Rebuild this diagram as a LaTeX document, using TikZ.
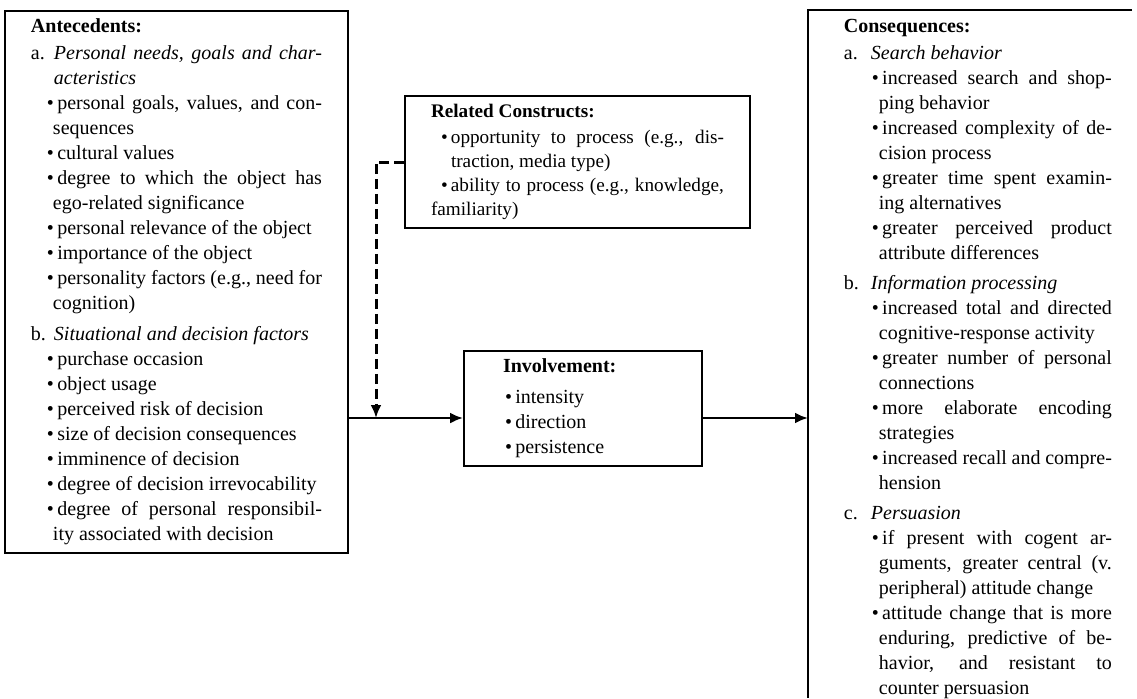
\documentclass[tikz,border=0pt]{standalone}
\usepackage{fontspec}
\setmainfont{Liberation Serif}
\usetikzlibrary{arrows.meta}
\tikzset{>={Latex[length=6.5pt,width=5.5pt]}}
\setlength{\parindent}{0pt}
\setlength{\parskip}{0pt}

\newlength{\bulx}
\newlength{\hangx}
\newlength{\letx}
\newcommand{\boxhead}[1]{\textbf{#1}\par}
\newcommand{\lettered}[3][3pt]{\vspace{#1}\hangindent=\letx\hangafter=1\makebox[\letx][l]{#2}\textit{#3}\par}
\newcommand{\bullitem}[2][\hangx]{\hangindent=#1\hangafter=1\hspace*{\bulx}\textbullet\,#2\par}

\tikzset{
	infobox/.style={draw, line width=0.9pt, align=justify, inner ysep=4pt, font=\fontsize{10}{12.5}\selectfont},
	link/.style={line width=1.3pt, ->},
	dasharrow/.style={line width=1.5pt, dash pattern=on 5pt off 2.5pt, ->}
}

\begin{document}
\begin{tikzpicture}[x=0.5pt,y=-0.5pt]
	\useasboundingbox (0,0) rectangle (1137,698);

	\node[infobox, text width=145.5pt, inner xsep=13pt, minimum height=270pt] (ante) at (176.5,282) {%
		\setlength{\bulx}{8pt}\setlength{\hangx}{11pt}\setlength{\letx}{11.5pt}%
		\boxhead{Antecedents:}
		\lettered[1pt]{a.}{Personal needs, goals and char-\linebreak acteristics}
		\bullitem{personal goals, values, and con-\linebreak sequences}
		\bullitem{cultural values}
		\bullitem{degree to which the object has\linebreak ego-related significance}
		\bullitem{personal relevance of the object}
		\bullitem{importance of the object}
		\bullitem{personality factors (e.g., need for\linebreak cognition)}
		\lettered{b.}{Situational and decision factors}
		\bullitem{purchase occasion}
		\bullitem{object usage}
		\bullitem{perceived risk of decision}
		\bullitem{size of decision consequences}
		\bullitem{imminence of decision}
		\bullitem{degree of decision irrevocability}
		\bullitem{degree of personal responsibil-\linebreak ity associated with decision}
	};

	\node[infobox, text width=146.5pt, inner xsep=13pt, minimum height=66pt, font=\fontsize{9.6}{12}\selectfont] (rel) at (577.5,162) {%
		\setlength{\bulx}{5pt}\setlength{\hangx}{10pt}%
		\boxhead{Related Constructs:}
		\vspace{1pt}
		\bullitem{opportunity to process (e.g., dis-\linebreak traction, media type)}
		\bullitem[0pt]{ability to process (e.g., knowledge,\linebreak familiarity)}
	};

	\node[infobox, text width=80pt, inner xsep=19.5pt, minimum height=56.5pt, align=left] (inv) at (583,408.5) {%
		\setlength{\bulx}{1pt}\setlength{\hangx}{4pt}%
		\boxhead{Involvement:}
		\vspace{3pt}
		\bullitem{intensity}
		\bullitem{direction}
		\bullitem{persistence}
	};

	\node[infobox, draw=none, text width=134pt, inner xsep=17.5pt, inner ysep=4pt, anchor=north west] (cons) at (808,10) {%
		\setlength{\bulx}{14pt}\setlength{\hangx}{17.5pt}\setlength{\letx}{13.5pt}%
		\boxhead{Consequences:}
		\lettered[1pt]{a.}{Search behavior}
		\bullitem{increased search and shop-\linebreak ping behavior}
		\bullitem{increased complexity of de-\linebreak cision process}
		\bullitem{greater time spent examin-\linebreak ing alternatives}
		\bullitem{greater perceived product\linebreak attribute differences}
		\lettered[2.5pt]{b.}{Information processing}
		\bullitem{increased total and directed\linebreak cognitive-response activity}
		\bullitem{greater number of personal\linebreak connections}
		\bullitem{more elaborate encoding\linebreak strategies}
		\bullitem{increased recall and compre-\linebreak hension}
		\lettered[2.5pt]{c.}{Persuasion}
		\bullitem{if present with cogent ar-\linebreak guments, greater central (v.\linebreak peripheral) attitude change}
		\bullitem{attitude change that is more\linebreak enduring, predictive of be-\linebreak havior, and resistant to\linebreak counter persuasion}
	};

	% rahmen rechts, offen nach unten
	\coordinate (corner) at (1132,698);
	\draw[line width=0.9pt] (corner |- cons.north) -- (cons.north west) -- (cons.north west |- corner);

	% pfeile
	\coordinate (join) at (376,418);
	\draw[link] (ante.east |- join) -- (inv.west |- join);
	\draw[link] (inv.east |- join) -- (cons.west |- join);
	\draw[dasharrow] (rel.west) -| (join);
\end{tikzpicture}
\end{document}
